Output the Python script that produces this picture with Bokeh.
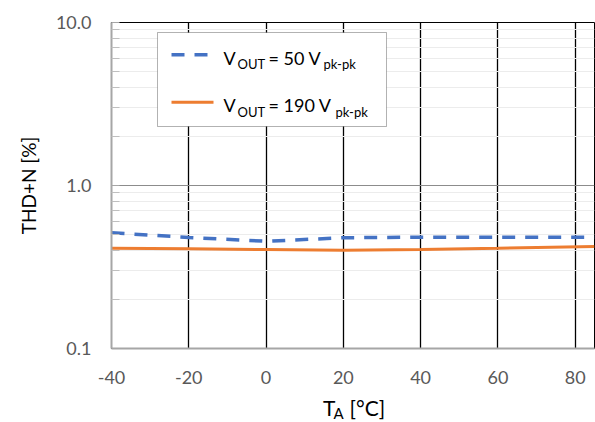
from bokeh.plotting import figure
from bokeh.layouts import column
from bokeh.models import (Range1d, FixedTicker, Label, BoxAnnotation, Arrow,
                          CustomJSTickFormatter)
from bokeh.embed import file_html
from bokeh.resources import INLINE

# ---- data ----
temps = [-40, -20, 0, 20, 40, 60, 85]
thd_50 = [0.513, 0.48, 0.455, 0.478, 0.482, 0.482, 0.482]
thd_190 = [0.412, 0.409, 0.405, 0.401, 0.405, 0.412, 0.422]
x_ticks = [-40, -20, 0, 20, 40, 60, 80]
x_grid_ticks = [-20, 0, 20, 40, 60, 80]
y_ticks = [0.1, 1.0, 10.0]
y_minor = [0.2, 0.3, 0.4, 0.5, 0.6, 0.7, 0.8, 0.9, 2, 3, 4, 5, 6, 7, 8, 9]
x_range = (-40, 85)
y_range = (0.1, 10)

FONT = "Lato"
BLUE = "#4472C4"
ORANGE = "#ED7D31"
BLUE_DASH = "13 10"

# geometry (canvas pixels)
W, H = 595, 422
TITLE_H = 34                 # strip below the chart holding the x-axis title
FL, FT, FR, FB = 111, 22, 594, 348
MAIN_H = H - TITLE_H

p = figure(width=W, height=MAIN_H, output_backend="svg", toolbar_location=None,
           y_axis_type="log",
           x_range=Range1d(*x_range), y_range=Range1d(*y_range),
           min_border_left=FL, min_border_right=W - FR,
           min_border_top=FT, min_border_bottom=MAIN_H - FB)
p.background_fill_color = "white"
p.border_fill_color = "white"
p.outline_line_color = "black"
p.outline_line_width = 1

p.line(temps, thd_50, line_color=BLUE, line_width=3.5, line_dash=BLUE_DASH)
p.line(temps, thd_190, line_color=ORANGE, line_width=3)

# x axis
xa = p.xaxis[0]
xa.ticker = FixedTicker(ticks=x_ticks)
xa.formatter = CustomJSTickFormatter(code="return tick.toString();")
xa.axis_line_color = "#a6a6a6"
xa.axis_line_width = 2
xa.major_tick_line_color = None
xa.minor_tick_line_color = None
xa.major_label_text_font = FONT
xa.major_label_text_font_size = "18px"
xa.major_label_text_color = "#595959"
xa.major_label_standoff = 16

# y axis
ya = p.yaxis[0]
ya.ticker = FixedTicker(ticks=y_ticks, minor_ticks=y_minor)
ya.formatter = CustomJSTickFormatter(code="return tick.toFixed(1);")
ya.axis_line_color = "#a6a6a6"
ya.axis_line_width = 2
ya.major_tick_line_color = "#a6a6a6"
ya.minor_tick_line_color = "#bfbfbf"
ya.major_tick_in = 8
ya.major_tick_out = 0
ya.minor_tick_in = 8
ya.minor_tick_out = 0
ya.major_label_text_font = FONT
ya.major_label_text_font_size = "18px"
ya.major_label_text_color = "#595959"
ya.major_label_standoff = 20
ya.axis_label = "THD+N [%]"
ya.axis_label_text_font = FONT
ya.axis_label_text_font_size = "19px"
ya.axis_label_text_font_style = "normal"
ya.axis_label_text_color = "black"
ya.axis_label_standoff = 13

# grids
p.xgrid.ticker = FixedTicker(ticks=x_grid_ticks)
p.xgrid.grid_line_color = "black"
p.xgrid.grid_line_width = 1.3
p.ygrid.grid_line_color = "#8c8c8c"
p.ygrid.grid_line_width = 1
p.ygrid.minor_grid_line_color = "#ececec"
p.ygrid.minor_grid_line_width = 1


# ---- legend drawn by hand (needs subscripts) ----
def sx(cx):
    return cx - FL


def sy(cy):
    return FB - cy


p.add_layout(BoxAnnotation(left=sx(157), right=sx(386), top=sy(32), bottom=sy(126),
                           left_units="screen", right_units="screen",
                           top_units="screen", bottom_units="screen",
                           fill_color="white", fill_alpha=1,
                           line_color="black", line_width=1, level="annotation"))
p.add_layout(Arrow(start=None, end=None,
                   x_start=sx(171), y_start=sy(54.3), x_end=sx(211), y_end=sy(54.3),
                   start_units="screen", end_units="screen",
                   line_color=BLUE, line_width=3.5, line_dash=BLUE_DASH,
                   level="overlay"))
p.add_layout(Arrow(start=None, end=None,
                   x_start=sx(171), y_start=sy(101.7), x_end=sx(213), y_end=sy(101.7),
                   start_units="screen", end_units="screen",
                   line_color=ORANGE, line_width=3, level="overlay"))


def add_text(fig, txt, x, y, size, color="black"):
    # y is the vertical centre of the capitals
    fig.add_layout(Label(x=x, y=y, x_units="screen", y_units="screen",
                         text=txt, text_font=FONT, text_font_size=size,
                         text_color=color, text_baseline="middle",
                         text_align="left", level="overlay"))


# legend row 1
add_text(p, "V", sx(223), sy(57.8), "18px")
add_text(p, "OUT", sx(237), sy(63.8), "13px")
add_text(p, "= 50 V", sx(268), sy(57.8), "18px")
add_text(p, "pk-pk", sx(323), sy(63.8), "13px")
# legend row 2
add_text(p, "V", sx(223), sy(104.8), "18px")
add_text(p, "OUT", sx(237), sy(111.2), "13px")
add_text(p, "= 190 V", sx(268), sy(104.8), "18px")
add_text(p, "pk-pk", sx(335), sy(111.2), "13px")

# ---- x-axis title strip: T_A [°C] (frame aligned with the chart frame) ----
t = figure(width=W, height=TITLE_H, output_backend="svg", toolbar_location=None,
           x_axis_location=None, y_axis_location=None,
           x_range=Range1d(0, 1), y_range=Range1d(0, 1),
           min_border=0, min_border_left=0, min_border_right=0,
           min_border_top=0, min_border_bottom=0)
t.outline_line_color = None
t.border_fill_color = "white"
t.background_fill_color = "white"
t.xgrid.visible = False
t.ygrid.visible = False


def ty(cy):
    return H - cy


add_text(t, "T", sx(322.5), ty(407), "21px")
add_text(t, "A", sx(333), ty(412.5), "15px")
add_text(t, "[°C]", sx(349), ty(407), "21px")

layout = column(p, t, spacing=0)
open("out.html", "w").write(file_html(layout, INLINE))
